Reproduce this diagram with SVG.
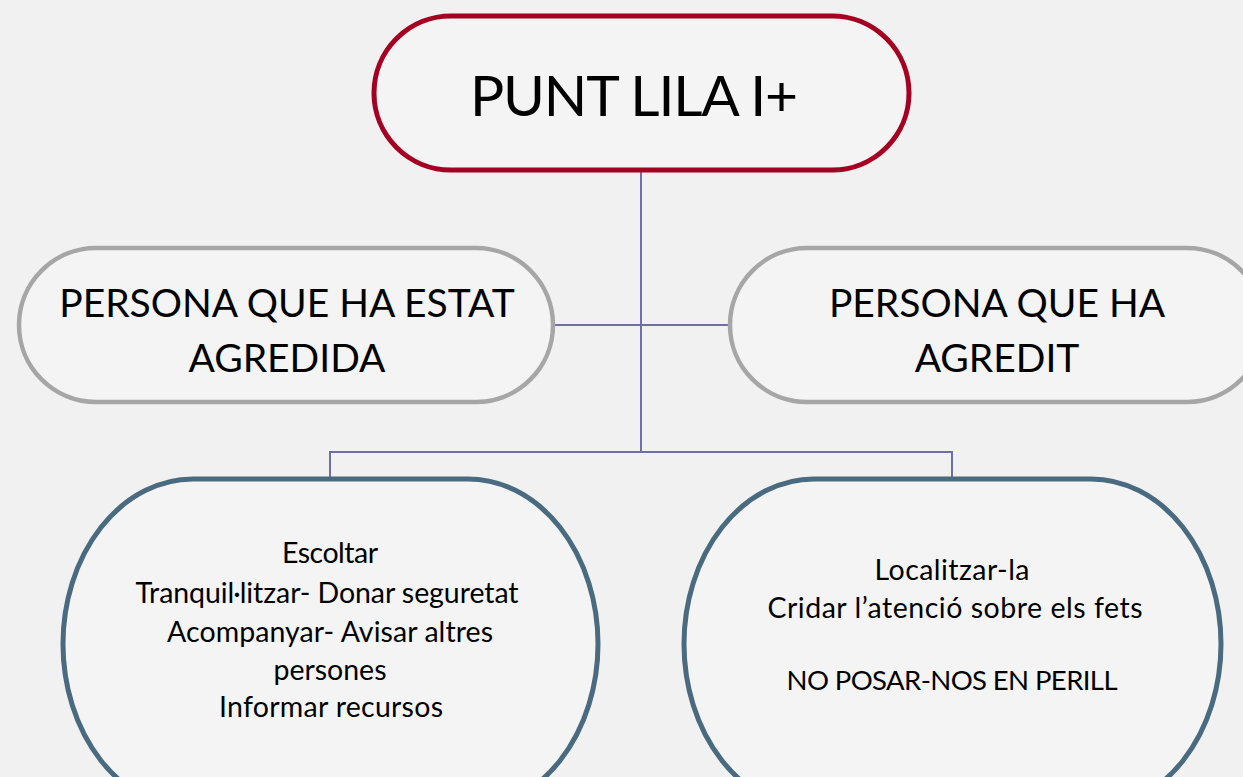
<svg xmlns="http://www.w3.org/2000/svg" width="1243" height="777" viewBox="0 0 1243 777">
<style>
.bg{fill:#F1F1F1}
.n{fill:#F4F4F4}
.top{stroke:#A50021;stroke-width:5}
.mid{stroke:#A6A6A6;stroke-width:4.5}
.bot{stroke:#4A6A80;stroke-width:5}
.c{fill:none;stroke:#6F6FA8;stroke-width:2}
text{font-family:Lato,"Open Sans","Liberation Sans",sans-serif;fill:#000;text-anchor:middle}
.t1{font-size:57px}
.t2{font-size:39px}
.t3{font-size:28.5px}
.t4{font-size:27.5px}
</style>
<rect class="bg" x="0" y="0" width="1243" height="777"/>
<g id="connectors">
<path class="c" d="M641 170 V452"/>
<path class="c" d="M553 325 H730"/>
<path class="c" d="M330 478 V452 H952 V478"/>
</g>
<g id="punt-lila">
<rect class="n top" x="374" y="16" width="535" height="154" rx="77" ry="77"/>
<text class="t1" x="634" y="116" textLength="328">PUNT LILA I+</text>
</g>
<g id="persona-agredida">
<rect class="n mid" x="19" y="248" width="534" height="154" rx="77" ry="77"/>
<text class="t2" x="287" y="317">PERSONA QUE HA ESTAT</text>
<text class="t2" x="287" y="372">AGREDIDA</text>
</g>
<g id="persona-agressora">
<rect class="n mid" x="730" y="248" width="534" height="154" rx="77" ry="77"/>
<text class="t2" x="997" y="317">PERSONA QUE HA</text>
<text class="t2" x="997" y="372">AGREDIT</text>
</g>
<g id="accions-agredida">
<rect class="n bot" x="63" y="479" width="535" height="330" rx="130" ry="165"/>
<text class="t3" x="330" y="563" textLength="96">Escoltar</text>
<text class="t3" x="327" y="603" textLength="383">Tranquil·litzar- Donar seguretat</text>
<text class="t3" x="330" y="642" textLength="326">Acompanyar- Avisar altres</text>
<text class="t3" x="330" y="680" textLength="113">persones</text>
<text class="t3" x="331" y="717" textLength="224">Informar recursos</text>
</g>
<g id="accions-agressor">
<rect class="n bot" x="684" y="479" width="537" height="330" rx="130" ry="165"/>
<text class="t3" x="952" y="580" textLength="155">Localitzar-la</text>
<text class="t3" x="955" y="618" textLength="375">Cridar l’atenció sobre els fets</text>
<text class="t4" x="952" y="690" textLength="331">NO POSAR-NOS EN PERILL</text>
</g>
</svg>
